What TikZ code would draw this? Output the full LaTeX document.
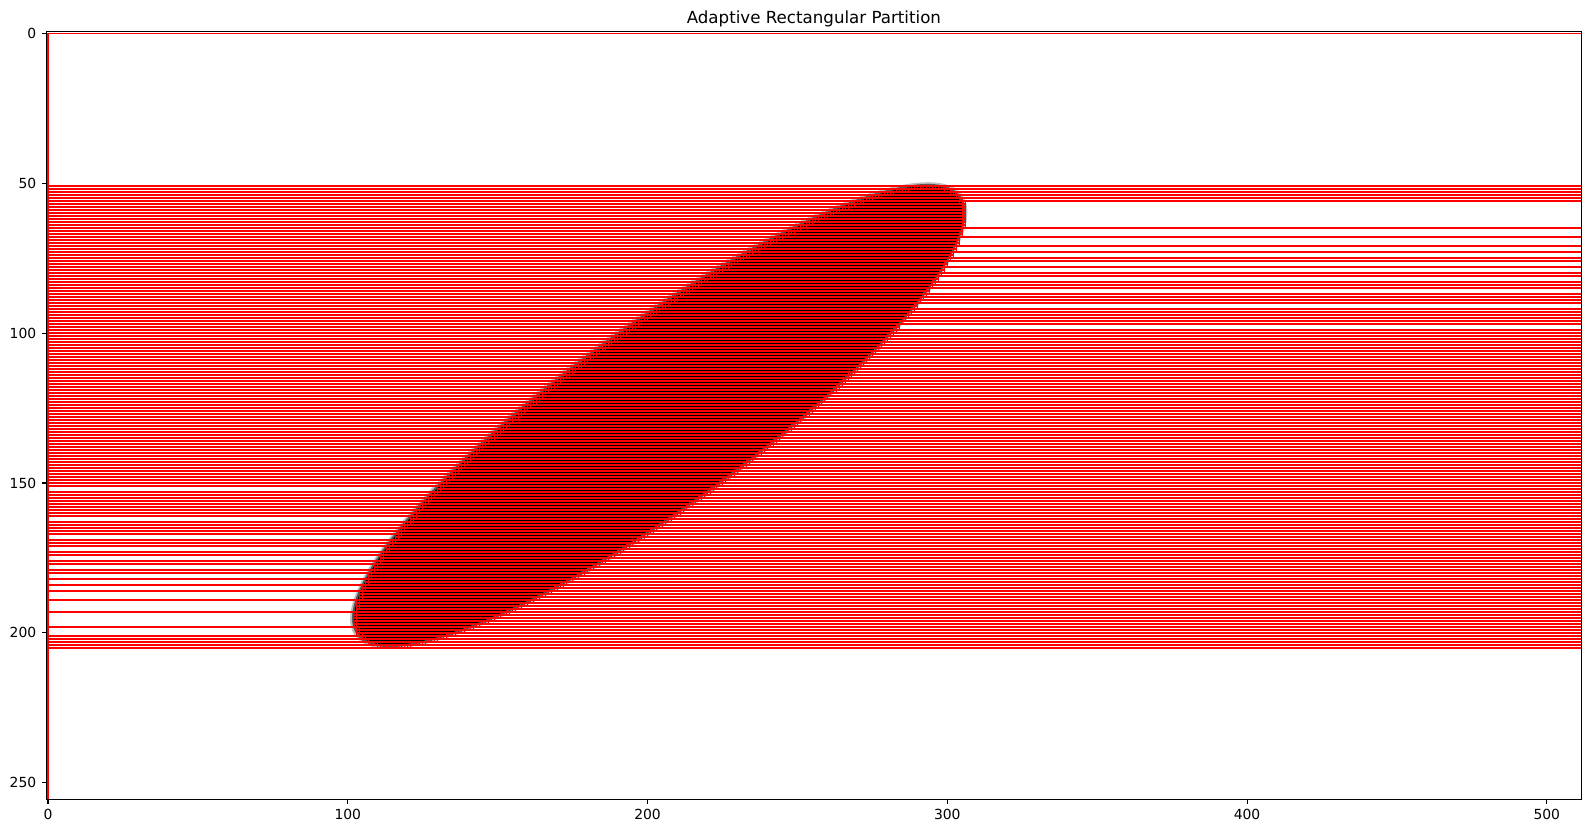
\documentclass[tikz,border=0pt]{standalone}
\usepackage{fontspec}
\setmainfont{DejaVu Sans}

% ellipse in pixel units: centre, semi-axes, tilt
\newcommand\ellX{203.74}
\newcommand\ellY{127.5}
\newcommand\ellA{124}
\newcommand\ellB{30}
\newcommand\ellT{36}
% grey rim: outside / inside the sharp edge
\newcommand\ellOut{0.2}
\newcommand\ellIn{-0.9}

% pixel run of row #1 for the ellipse grown by #2 -> \runL..\runR
\newcommand\ellrun[2]{%
  \edef\runV{\fpeval{#1-\ellY}}%
  \edef\runP{\fpeval{\ellA+(#2)}}%
  \edef\runQ{\fpeval{\ellB+(#2)}}%
  \edef\runAl{\fpeval{cosd(\ellT)^2/(\runP)^2+sind(\ellT)^2/(\runQ)^2}}%
  \edef\runBe{\fpeval{2*(\runV)*cosd(\ellT)*sind(\ellT)*(1/(\runQ)^2-1/(\runP)^2)}}%
  \edef\runGa{\fpeval{(\runV)^2*(sind(\ellT)^2/(\runP)^2+cosd(\ellT)^2/(\runQ)^2)-1}}%
  \edef\runD{\fpeval{(\runBe)^2-4*(\runAl)*(\runGa)}}%
  \edef\runL{\fpeval{(\runD)>0 ? floor(\ellX+(-(\runBe)-sqrt(max(\runD,0)))/(2*(\runAl)))+1 : 512}}%
  \edef\runR{\fpeval{(\runD)>0 ? ceil(\ellX+(-(\runBe)+sqrt(max(\runD,0)))/(2*(\runAl)))-1 : 511}}%
  \ifnum\runL>\runR \def\runL{512}\def\runR{511}\fi
}

\begin{document}
\begin{tikzpicture}[
    x=0.72pt, y=-0.72pt,
    partline/.style={draw=red, line width=1pt},
    spine/.style={draw=black, line width=0.8pt},
    tickmark/.style={draw=black, line width=0.8pt},
    ticklabel/.style={font=\fontsize{10}{12}\selectfont, inner sep=0pt},
]
\useasboundingbox (0,0) rectangle (1589,833);

% rows of the partition
\foreach \j in {40,...,216} {
  \ellrun{\j}{\ellOut}
  \expandafter\xdef\csname wL\j\endcsname{\runL}
  \expandafter\xdef\csname wR\j\endcsname{\runR}
  \edef\nR{\runR}
  \ellrun{\j}{\ellIn}
  \ifnum\runL>\runR
    \pgfmathtruncatemacro\runL{\nR+1}\edef\runR{\nR}
  \fi
  \expandafter\xdef\csname kL\j\endcsname{\runL}
  \expandafter\xdef\csname kR\j\endcsname{\runR}
}

\begin{scope}[xshift=34.56pt, yshift=-23.976pt, x=2.1583pt, y=-2.1583pt]

% image
\fill[black!25, rotate around={\ellT:(\ellX,\ellY)}] (\ellX,\ellY) ellipse [x radius=\ellA+1.2, y radius=\ellB+1.2];
\fill[black!65, rotate around={\ellT:(\ellX,\ellY)}] (\ellX,\ellY) ellipse [x radius=\ellA+0.5, y radius=\ellB+0.5];
\fill[black, rotate around={\ellT:(\ellX,\ellY)}] (\ellX,\ellY) ellipse [x radius=\ellA-0.3, y radius=\ellB-0.3];

% rectangles
\begin{scope}
\clip (-0.5,-0.5) rectangle (511.5,255.5);
\draw[partline] (0,256) -- (0,0) -- (512,0);
\foreach \j in {40,...,215} {
  \pgfmathtruncatemacro\jn{\j+1}
  \edef\aL{\csname wL\j\endcsname}\edef\aR{\csname wR\j\endcsname}
  \edef\cL{\csname wL\jn\endcsname}\edef\cR{\csname wR\jn\endcsname}
  \edef\bL{\csname kL\j\endcsname}\edef\bR{\csname kR\j\endcsname}
  \ifnum\aL<512
    \draw[partline] (\aL,\j) -- (\aR+1,\j) (\aL,\jn) -- (\aR+1,\jn);
    \foreach \k in {\aL,...,\bL} {\draw[partline] (\k,\j) -- (\k,\jn);}
    \pgfmathtruncatemacro\bS{\bR+1}
    \pgfmathtruncatemacro\aS{\aR+1}
    \foreach \k in {\bS,...,\aS} {\draw[partline] (\k,\j) -- (\k,\jn);}
  \fi
  % white strips that change width
  \ifnum\aL=\cL\else\draw[partline] (0,\jn) -- ({max(\aL,\cL)},\jn);\fi
  \ifnum\aR=\cR\else\draw[partline] ({min(\aR,\cR)+1},\jn) -- (512,\jn);\fi
}
\end{scope}

% axes
\draw[spine] (-0.5,-0.5) rectangle (511.5,255.5);
\foreach \t in {0,100,...,500}
  \draw[tickmark] (\t,255.5) -- ++(0pt,-3.5pt)
    node[ticklabel, anchor=north, yshift=-3.5pt] (xt\t) {\t};
\foreach \t in {0,50,...,250}
  \draw[tickmark] (-0.5,\t) -- ++(-3.5pt,0pt)
    node[ticklabel, anchor=east, xshift=-3.5pt] (yt\t) {\t};

\node[font=\fontsize{12}{14}\selectfont, inner sep=0pt, anchor=base, yshift=6pt] (title)
  at (255.5,-0.5) {Adaptive Rectangular Partition};

\end{scope}
\end{tikzpicture}
\end{document}
